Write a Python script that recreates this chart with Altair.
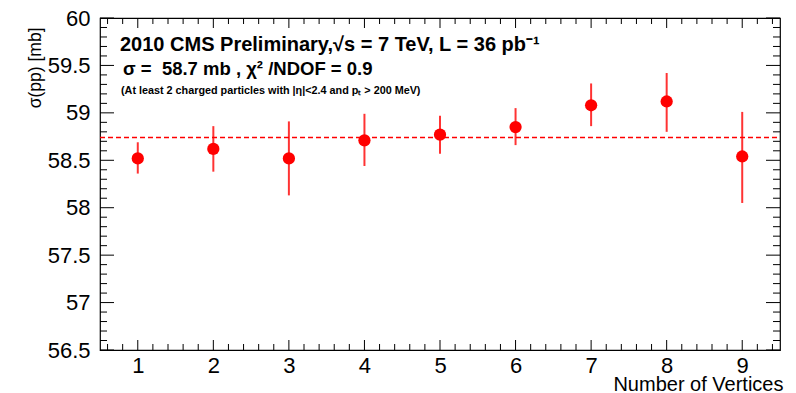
import altair as alt
import pandas as pd
import numpy as np

# ---- data ----
n_vertices = [1, 2, 3, 4, 5, 6, 7, 8, 9]
sigma_pp = [58.52, 58.62, 58.52, 58.71, 58.77, 58.85, 59.08, 59.12, 58.54]
err_high = [58.69, 58.86, 58.91, 58.99, 58.97, 59.05, 59.31, 59.42, 59.01]
err_low = [58.36, 58.38, 58.13, 58.44, 58.57, 58.66, 58.86, 58.80, 58.05]
fit_value = [58.74]

y_major = [56.5, 57.0, 57.5, 58.0, 58.5, 59.0, 59.5, 60.0]
x_major = [1, 2, 3, 4, 5, 6, 7, 8, 9]
y_minor = [round(v, 1) for v in np.arange(56.6, 60.0, 0.1) if abs(v * 2 - round(v * 2)) > 1e-6]
x_minor = [round(v, 1) for v in np.arange(0.6, 9.5, 0.2) if abs(v - round(v)) > 1e-6]

W, H = 680, 332
FONT = "Liberation Sans"
RED = "#ff0000"

df = pd.DataFrame({"n": n_vertices, "s": sigma_pp, "lo": err_low, "hi": err_high})

xs = alt.Scale(domain=[0.5, 9.5], nice=False, zero=False)
ys = alt.Scale(domain=[56.5, 60.0], nice=False, zero=False)

y_axis = alt.Axis(values=y_major, format="~g", ticks=False, domain=False, grid=False,
                  labelFont=FONT, labelFontSize=22, labelColor="black",
                  labelPadding=10, labelFlush=False,
                  title="σ(pp) [mb]", titleFont=FONT, titleFontSize=17.5,
                  titleFontWeight="normal", titleColor="black",
                  titleAngle=-90, titleAlign="right", titleBaseline="top",
                  titleX=-74, titleY=9)
x_axis = alt.Axis(values=x_major, format="d", ticks=False, domain=False, grid=False,
                  labelFont=FONT, labelFontSize=22, labelColor="black",
                  labelPadding=5, labelFlush=False,
                  title="Number of Vertices", titleFont=FONT, titleFontSize=20,
                  titleFontWeight="normal", titleColor="black",
                  titleAnchor="end", titleAlign="right", titleBaseline="alphabetic",
                  titleX=W + 3, titleY=40)

X = lambda f: alt.X(f, scale=xs, axis=x_axis)
Y = lambda f: alt.Y(f, scale=ys, axis=y_axis)

errbars = alt.Chart(df).mark_rule(color=RED, strokeWidth=2, opacity=0.8).encode(
    x=X("n:Q"), y=Y("lo:Q"), y2="hi:Q",
)
points = alt.Chart(df).mark_point(shape="circle", filled=True, color=RED, size=150, opacity=1).encode(
    x=X("n:Q"), y=Y("s:Q"),
)
fit = alt.Chart(pd.DataFrame({"f": fit_value})).mark_rule(
    color=RED, strokeWidth=1.5, strokeDash=[5, 3]).encode(
    y=Y("f:Q"), x=alt.value(0), x2=alt.value(W),
)

# inward ticks (ROOT style)
def yticks(vals, length):
    d = pd.DataFrame({"v": vals})
    left = alt.Chart(d).mark_rule(color="black", strokeWidth=1).encode(
        y=Y("v:Q"), x=alt.value(0), x2=alt.value(length))
    right = alt.Chart(d).mark_rule(color="black", strokeWidth=1).encode(
        y=Y("v:Q"), x=alt.value(W - length), x2=alt.value(W))
    return [left, right]

def xticks(vals, length):
    d = pd.DataFrame({"v": vals})
    bottom = alt.Chart(d).mark_rule(color="black", strokeWidth=1).encode(
        x=X("v:Q"), y=alt.value(H), y2=alt.value(H - length))
    top = alt.Chart(d).mark_rule(color="black", strokeWidth=1).encode(
        x=X("v:Q"), y=alt.value(0), y2=alt.value(length))
    return [bottom, top]

ticks = yticks(y_major, 14) + yticks(y_minor, 7) + xticks(x_major, 10) + xticks(x_minor, 6)

def label(txt, x, y, size, bold=True):
    return alt.Chart(pd.DataFrame({"t": [txt]})).mark_text(
        align="left", baseline="alphabetic", font=FONT, fontSize=size,
        fontWeight="bold" if bold else "normal", color="black").encode(
        text="t:N", x=alt.value(x), y=alt.value(y))

texts = [
    label("2010 CMS Preliminary,√s = 7 TeV, L = 36 pb⁻¹", 20, 32.5, 20),
    label("σ =\u00a0 58.7 mb , χ² /NDOF = 0.9", 23, 57, 18.5),
    label("(At least 2 charged particles with |η|<2.4 and pₜ > 200 MeV)", 21, 76, 10.8),
]

chart = alt.layer(errbars, points, fit, *ticks, *texts).properties(
    width=W, height=H,
    autosize=alt.AutoSizeParams(type="none"),
    padding={"left": 100, "top": 18, "right": 16, "bottom": 43},
    background="white",
).configure_view(stroke="black", strokeWidth=1.2)

chart.save("out.html", embed_options={"renderer": "svg", "actions": False})
